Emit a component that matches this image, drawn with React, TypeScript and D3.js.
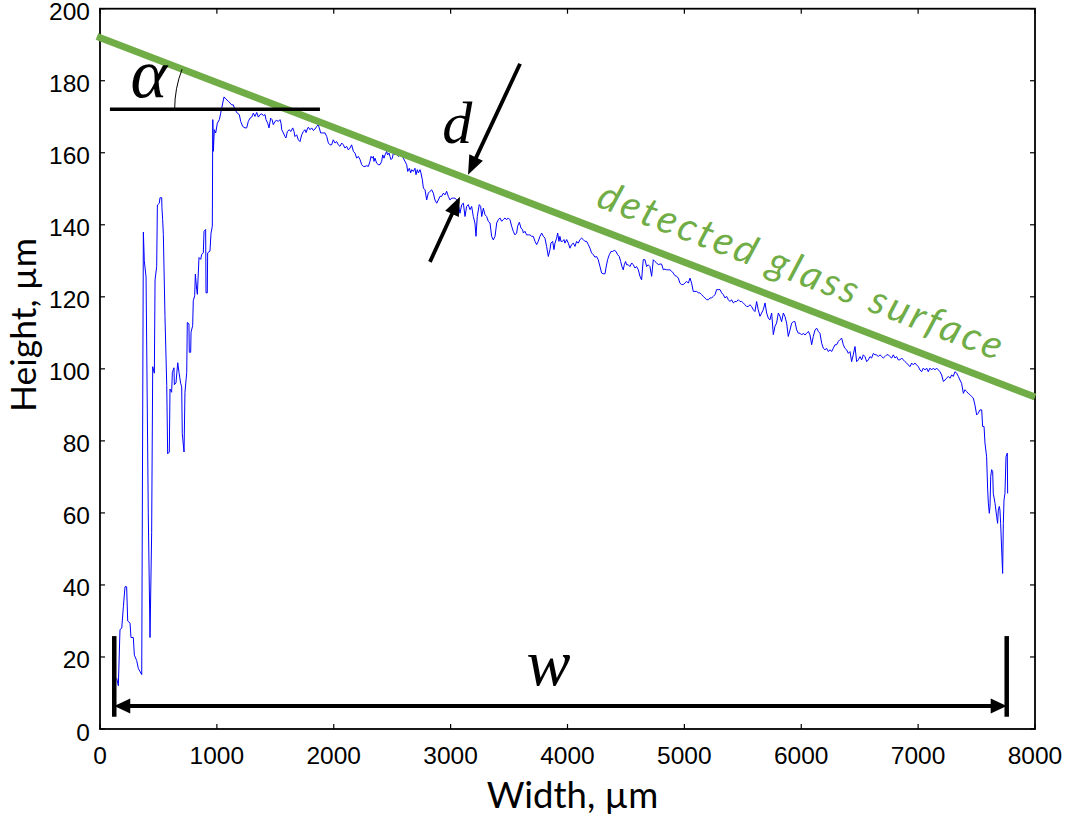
import React from 'react';
import * as d3 from 'd3';

const xTicks = [0, 1000, 2000, 3000, 4000, 5000, 6000, 7000, 8000];
const yTicks = [0, 20, 40, 60, 80, 100, 120, 140, 160, 180, 200];
const xLabel = 'Width, µm';
const yLabel = 'Height, µm';

// Measured profile: [width µm, height µm]
const profileLeft: [number, number][] = [
  [143,14.1],[157,12],[171,27.6],[186,28],[200,34],[214,39.5],[228,39.5],[237,30],[257,29.4],[265,25.4],
  [285,25.4],[294,20.5],[314,19],[328,16.8],[357,15.1],[371,138],[379,130],[394,125.5],[413,60],[428,25.4],
  [442,54.6],[451,100.6],[465,98.8],[471,124.7],[485,128.4],[491,145.5],[508,146],[513,147.5],[528,147.5],[530,144.7],
  [536,141.5],[542,137.3],[556,114.6],[571,95.4],[579,76.4],[593,76.9],[599,94.4],[613,93.5],[619,99],[633,100.3],
  [636,95.6],[650,96.1],[665,101.7],[676,99],[690,96],[699,95],[704,82],[719,76.9],[727,93.5],[742,99],
  [747,112.9],[761,112.5],[764,104.6],[776,104.6],[779,110.2],[793,112],[798,118.9],[810,120.3],[816,126.3],[827,122.1],
  [833,120.7],[847,130.9],[862,130.4],[870,131.8],[884,132.2],[890,138.2],[904,138.7],[907,121.1],[918,121.1],[921,132.2],
  [941,132.7],[950,137.7],[961,139.6],
];
const profileTop: [number, number][] = [
  [965,169.2],[970,160.4],[978,166.4],[990,165.5],[1004,168.2],[1021,169.2],[1033,171],[1050,173.8],[1061,175.5],[1078,174.9],
  [1098,174.3],[1127,173.3],[1141,173.3],[1155,171.9],[1175,171],[1192,170.6],[1204,168.7],[1221,167.3],[1241,166.9],[1255,166.9],
  [1269,168.7],[1283,169.6],[1298,169.9],[1312,171],[1326,170.1],[1341,171.2],[1355,169.9],[1369,170.6],[1384,170.8],[1398,170.3],
  [1412,170.6],[1420,169.2],[1435,168.2],[1446,166.9],[1460,169.6],[1472,169.2],[1483,167.8],[1497,168.7],[1512,169],[1526,168.7],
  [1540,169.2],[1549,168.2],[1555,166.4],[1569,165.5],[1583,164.5],[1591,164.1],[1603,165.9],[1620,166.4],[1632,165.9],[1649,166.9],
  [1660,165.9],[1668,164.5],[1683,165],[1697,163.6],[1711,163.1],[1726,165],[1740,165.9],[1754,166.4],[1763,165.6],[1774,166.6],
  [1783,167.1],[1797,166.4],[1811,166.9],[1825,166.2],[1840,166.6],[1854,167.3],[1868,167.8],[1876,166.9],[1888,165.5],[1905,165.5],
  [1925,165.5],[1940,164.5],[1954,162.7],[1968,162.2],[1982,162.2],[1996,163.6],[2011,162.7],[2025,163.1],[2039,162.2],[2053,161.8],
  [2068,162.7],[2082,162.2],[2096,161.3],[2110,161.8],[2125,160.8],[2139,161.3],[2153,162.2],[2168,160.4],[2182,159.9],[2196,158.5],
  [2210,159],[2225,158.1],[2239,156.7],[2253,156.2],[2267,156.2],[2282,156.4],[2296,156.2],[2310,157.6],[2319,159],[2330,158.5],
  [2339,159],[2344,157.6],[2353,158.5],[2367,157.1],[2381,156.7],[2396,156.7],[2410,157.6],[2419,159.4],[2430,158.5],[2439,159.4],
  [2453,160.4],[2461,159.4],[2473,159.9],[2481,159],[2490,158.1],[2501,158.5],[2510,159.9],[2524,159.4],[2538,159.9],[2552,159],
  [2567,159.4],[2581,159.4],[2595,158.5],[2610,157.6],[2624,156.7],[2633,154.8],[2647,155.7],[2658,154.4],[2667,155.3],[2681,154.8],
  [2695,155.7],[2704,153.9],[2715,155.3],[2724,154.4],[2738,155.3],[2746,154.4],[2758,152.5],[2767,150.2],[2781,149.7],[2795,146.9],
  [2809,148.8],[2824,149.3],[2838,149.7],[2852,148.8],[2866,146.9],[2881,146],[2895,146.9],[2909,147.9],[2923,147.9],[2938,148.8],
  [2952,148.3],[2966,149.3],[2980,147.9],[2995,146.9],[3009,147.4],[3023,147.4],[3037,147.4],[3052,146.9],[3066,145.6],[3080,143.2],
  [3095,145.6],[3109,146],[3123,142.3],[3137,145.1],[3151,145.6],[3166,144.2],[3180,145.1],[3194,142.3],[3208,140.5],[3217,136.8],
  [3228,142.3],[3245,145.6],[3257,145.1],[3266,142.3],[3280,144.6],[3294,142.8],[3308,142.3],[3323,140.9],[3337,140.5],[3351,136.8],
  [3365,135.8],[3380,136.8],[3394,140.5],[3408,141.4],[3422,141.9],
];
const profileMid: [number, number][] = [
  [3436,141],[3451,141.4],[3465,141.9],[3479,141.4],[3493,141.9],[3508,141.4],[3522,139.6],[3536,138.2],[3550,137.2],[3565,137.7],
  [3573,139.6],[3588,140.7],[3602,139.1],[3616,138.6],[3622,137.7],[3636,138.2],[3650,137.2],[3665,137.2],[3679,137.2],[3693,136.8],
  [3707,136.8],[3722,135.4],[3736,134.5],[3750,135.4],[3764,136.8],[3779,137.7],[3793,136.8],[3807,136.3],[3821,134],[3836,131.2],
  [3850,133.1],[3858,134.9],[3873,135.4],[3884,133.1],[3893,134.9],[3907,136.3],[3916,137.7],[3927,135.4],[3935,136.8],[3944,135.4],
  [3958,135.4],[3970,135.9],[3978,134.9],[3993,135.9],[4007,134.9],[4021,133.5],[4035,134.5],[4050,134.9],[4064,134],[4078,135.4],
  [4092,134.9],[4107,135.9],[4121,136.3],[4135,135.9],[4149,135.4],[4164,135.4],[4178,134.5],[4192,133.5],[4206,132.2],[4221,131.7],
  [4235,131],[4249,131.2],[4263,130.3],[4278,128.4],[4292,126.6],[4306,126.4],[4321,126.4],[4329,128],[4343,130.3],[4358,131.7],
  [4372,132.6],[4386,132.6],[4400,132.9],[4415,132.6],[4429,131.7],[4443,131.2],[4455,129.8],[4466,128.4],[4477,127.5],[4486,128.9],
  [4497,129.8],[4506,128.9],[4520,128.9],[4534,128.4],[4549,129.4],[4563,128.9],[4577,128],[4591,128.4],[4606,127.5],[4620,125.7],
  [4634,124.7],[4648,130.3],[4663,130.3],[4677,128.4],[4691,128.9],[4705,128.4],[4720,125.7],[4734,130.3],[4748,129.8],[4763,129.4],
  [4777,128.9],[4791,129.1],[4805,129.1],[4820,127.5],[4834,127.7],[4848,127.5],[4862,127.5],[4877,127.5],[4891,127.1],[4905,126.6],
  [4919,125.9],[4934,125.7],[4948,125.2],[4962,123.8],[4976,123.4],[4991,123.4],[5005,123.8],[5019,124.3],[5034,123.8],[5048,125.2],
  [5062,123.8],[5076,121.5],[5091,121.5],[5105,121.5],[5119,121.1],[5133,121.1],[5148,120.6],[5162,120.1],[5176,119.7],[5190,119.2],
  [5205,119.2],[5219,119.7],[5233,119.7],[5247,120.1],[5262,120.6],[5276,122],[5290,122],[5305,122],[5319,121.1],[5333,120.6],
  [5347,119.7],[5362,120.1],[5376,119.2],[5390,118.7],[5404,119.2],[5419,118.3],[5433,118.7],[5447,118.7],[5461,119.2],[5476,118.7],
  [5490,118.7],[5504,118.3],[5518,117.8],[5533,117.3],[5547,117.3],[5561,117.8],[5575,117.3],[5590,116.4],[5604,115.9],[5618,118.7],
  [5632,116.4],[5647,114.6],[5661,115.5],[5675,116.4],[5690,118.3],[5704,115.5],[5718,114.1],[5732,113.6],[5747,115.5],[5761,109.5],
  [5775,111.8],[5789,112.7],[5804,115.5],[5818,114.6],
];
const profileRight: [number, number][] = [
  [5832,113.1],[5847,115.5],[5861,114.5],[5875,112.7],[5889,109],[5904,110.8],[5918,112.7],[5932,113.1],[5946,113.1],[5961,110.8],
  [5975,109.9],[5989,109.9],[6004,109.4],[6018,109.9],[6032,109.4],[6046,109.9],[6061,110.4],[6075,109.4],[6089,106.7],[6103,109],
  [6118,110.8],[6132,111.3],[6146,110.4],[6160,109.9],[6175,107.1],[6189,105.7],[6203,105.3],[6217,105.7],[6232,104.8],[6246,105.3],
  [6260,104.8],[6274,105.7],[6289,106.7],[6303,106.7],[6317,107.6],[6331,108.1],[6346,108.5],[6360,106.7],[6374,105.7],[6388,105.3],
  [6403,104.3],[6417,104.8],[6431,102],[6445,103.9],[6460,106.2],[6474,102],[6488,102.5],[6503,103.4],[6517,102.5],[6531,103.9],
  [6545,103.4],[6560,102],[6574,102.5],[6588,103.4],[6602,103],[6617,104.3],[6631,103.9],[6645,103.9],[6659,103.4],[6674,103.9],
  [6688,103.4],[6702,103],[6716,103.4],[6731,103.9],[6745,103.9],[6759,103.4],[6773,103],[6788,103.9],[6802,103],[6816,103.4],
  [6830,102.5],[6845,102.5],[6859,103],[6873,102.5],[6888,102],[6902,101.6],[6916,101.1],[6930,100.6],[6945,101.6],[6959,101.1],
  [6973,101.6],[6987,101.1],[7002,100.6],[7016,99.7],[7030,99.2],[7044,100.2],[7059,99.7],[7073,100.2],[7087,99.2],[7101,100.2],
  [7116,99.7],[7130,100.2],[7144,99.7],[7158,100.2],[7173,99.7],[7187,99.2],[7201,98.3],[7216,96.5],[7230,96.9],[7244,97.4],
  [7258,97.9],[7273,97.4],[7287,98.3],[7301,97.9],[7315,99.2],[7330,98.8],[7344,97.9],[7358,96.9],[7372,96],[7387,93.2],
  [7401,94.2],[7415,93.7],[7429,93.2],[7444,92.8],[7458,92.3],[7472,91.9],[7486,90],[7501,87.2],[7515,87.7],[7529,88.6],
  [7544,88.6],[7552,84],[7564,84],[7572,79.4],[7586,75.6],[7595,66.4],[7601,62.7],[7609,59.9],[7615,61.8],[7621,70.1],
  [7629,72],[7638,71.5],[7643,65.4],[7658,62.7],[7672,59],[7680,57.1],[7686,60.8],[7695,61.8],[7700,60.8],[7706,57.1],
  [7715,49.7],[7723,43.2],[7729,57.1],[7735,63.6],[7743,65.4],[7752,75.6],[7763,76.6],[7766,65.4],
];
const profile = [...profileLeft, ...profileTop, ...profileMid, ...profileRight];

// Annotations (data units)
const surfaceLine: [number, number][] = [[-26, 192.3], [8000, 92.2]];
const horizRef: [number, number][] = [[85, 172.1], [1882, 172.1]];
const dArrowTop: [number, number][] = [[3594, 184.7], [3149, 153.9]];
const dArrowBottom: [number, number][] = [[2823, 129.7], [3080, 147.8]];
const wArrow: [number, number][] = [[122, 6.4], [7758, 6.4]];
const wBars: number[] = [122, 7758];
const wBarRange: [number, number] = [3.4, 25.8];
const alphaPos: [number, number] = [262, 175.6];
const dPos: [number, number] = [2928, 162.8];
const wPos: [number, number] = [3650, 12.2];
const surfaceLabelPos: [number, number] = [4235, 145.2];
const surfaceLabel = 'detected glass surface';

const W = 1066, H = 817;
const x = d3.scaleLinear().domain([0, 8000]).range([100, 1035]);
const y = d3.scaleLinear().domain([0, 200]).range([729, 8.7]);

function arrowHead(x1: number, y1: number, x2: number, y2: number, len: number, half: number) {
  const a = Math.atan2(y2 - y1, x2 - x1);
  const bx = x2 - len * Math.cos(a), by = y2 - len * Math.sin(a);
  const px = -Math.sin(a), py = Math.cos(a);
  return `M${x2},${y2}L${bx + half * px},${by + half * py}L${bx - half * px},${by - half * py}Z`;
}
function shorten(x1: number, y1: number, x2: number, y2: number, d: number) {
  const a = Math.atan2(y2 - y1, x2 - x1);
  return [x2 - d * Math.cos(a), y2 - d * Math.sin(a)];
}

export default function App() {
  const line = d3.line<[number, number]>().x(d => x(d[0])).y(d => y(d[1]));
  const x0 = x(0), x1 = x(8000), y0 = y(0), y1 = y(200);

  const sx1 = x(surfaceLine[0][0]), sy1 = y(surfaceLine[0][1]);
  const sx2 = x(surfaceLine[1][0]), sy2 = y(surfaceLine[1][1]);
  const theta = Math.atan2(sy2 - sy1, sx2 - sx1);
  const hy = y(horizRef[0][1]);
  const cx = sx1 + (hy - sy1) / Math.tan(theta);
  const r = 111.6;
  const arcStart = [cx - r, hy];
  const arcEnd = [cx - r * Math.cos(theta), hy - r * Math.sin(theta)];
  const thetaDeg = (theta * 180) / Math.PI;

  const arrows = [dArrowTop, dArrowBottom].map(a => {
    const ax1 = x(a[0][0]), ay1 = y(a[0][1]), ax2 = x(a[1][0]), ay2 = y(a[1][1]);
    const [ex, ey] = shorten(ax1, ay1, ax2, ay2, 15);
    return { ax1, ay1, ex, ey, head: arrowHead(ax1, ay1, ax2, ay2, 19, 7.5) };
  });

  const wy = y(wArrow[0][1]);
  const wxa = x(wArrow[0][0]), wxb = x(wArrow[1][0]);

  return (
    <svg width={W} height={H} style={{ position: 'absolute', left: 0, top: 0, background: '#fff' }}>
      <rect x={0} y={0} width={W} height={H} fill="#fff" />
      <g stroke="#000" strokeWidth={1.2}>
        {xTicks.map(t => (
          <g key={'xt' + t}>
            <line x1={x(t)} x2={x(t)} y1={y0} y2={y0 - 5} />
            <line x1={x(t)} x2={x(t)} y1={y1} y2={y1 + 5} />
          </g>
        ))}
        {yTicks.map(t => (
          <g key={'yt' + t}>
            <line x1={x0} x2={x0 + 5} y1={y(t)} y2={y(t)} />
            <line x1={x1} x2={x1 - 5} y1={y(t)} y2={y(t)} />
          </g>
        ))}
      </g>
      <rect x={x0} y={y1} width={x1 - x0} height={y0 - y1} fill="none" stroke="#000" strokeWidth={1.8} />
      <g fontFamily="'Liberation Sans', Arial, sans-serif" fontSize={24.5} fill="#000">
        {xTicks.map(t => (
          <text key={'xl' + t} x={x(t)} y={y0 + 26} dominantBaseline="central" textAnchor="middle">{t}</text>
        ))}
        {yTicks.map(t => (
          <text key={'yl' + t} x={90} y={y(t) + 3} dominantBaseline="central" textAnchor="end">{t}</text>
        ))}
      </g>
      <text x={(x0 + x1) / 2 + 5} y={808} textAnchor="middle" fontFamily="Lato, 'Open Sans', sans-serif" fontSize={36.5} fill="#000">{xLabel}</text>
      <text transform={`translate(36,${325}) rotate(-90)`} textAnchor="middle" fontFamily="Lato, 'Open Sans', sans-serif" fontSize={35.5} fill="#000">{yLabel}</text>

      <path d={line(profile) || ''} fill="none" stroke="#0000ff" strokeWidth={1} strokeLinejoin="round" />

      <line x1={sx1} y1={sy1} x2={sx2} y2={sy2} stroke="#70AD47" strokeWidth={7} />
      <text
        transform={`translate(${x(surfaceLabelPos[0])},${y(surfaceLabelPos[1])}) rotate(${thetaDeg})`}
        fontFamily="Lato, 'Open Sans', sans-serif" fontStyle="italic" fontSize={40} fill="#70AD47"
        textLength={430} lengthAdjust="spacing"
      >{surfaceLabel}</text>

      <line x1={x(horizRef[0][0])} x2={x(horizRef[1][0])} y1={hy} y2={hy} stroke="#000" strokeWidth={3.5} />
      <path d={`M${arcStart[0]},${arcStart[1]} A${r},${r} 0 0 1 ${arcEnd[0]},${arcEnd[1]}`} fill="none" stroke="#000" strokeWidth={1} />
      <text x={x(alphaPos[0])} y={y(alphaPos[1])} fontFamily="'Liberation Serif', 'DejaVu Serif', serif" fontStyle="italic" fontSize={70} fill="#000">α</text>

      {arrows.map((a, i) => (
        <g key={'ar' + i}>
          <line x1={a.ax1} y1={a.ay1} x2={a.ex} y2={a.ey} stroke="#000" strokeWidth={3.8} />
          <path d={a.head} fill="#000" />
        </g>
      ))}
      <text x={x(dPos[0])} y={y(dPos[1])} fontFamily="'Liberation Serif', 'DejaVu Serif', serif" fontStyle="italic" fontSize={60} fill="#000">d</text>

      {wBars.map((b, i) => (
        <line key={'wb' + i} x1={x(b)} x2={x(b)} y1={y(wBarRange[0])} y2={y(wBarRange[1])} stroke="#000" strokeWidth={4.5} />
      ))}
      <line x1={wxa + 14} x2={wxb - 14} y1={wy} y2={wy} stroke="#000" strokeWidth={4} />
      <path d={arrowHead(wxb, wy, wxa, wy, 16, 7.5)} fill="#000" />
      <path d={arrowHead(wxa, wy, wxb, wy, 16, 7.5)} fill="#000" />
      <text x={x(wPos[0])} y={y(wPos[1])} fontFamily="'Liberation Serif', 'DejaVu Serif', serif" fontStyle="italic" fontSize={66} fill="#000">w</text>
    </svg>
  );
}
